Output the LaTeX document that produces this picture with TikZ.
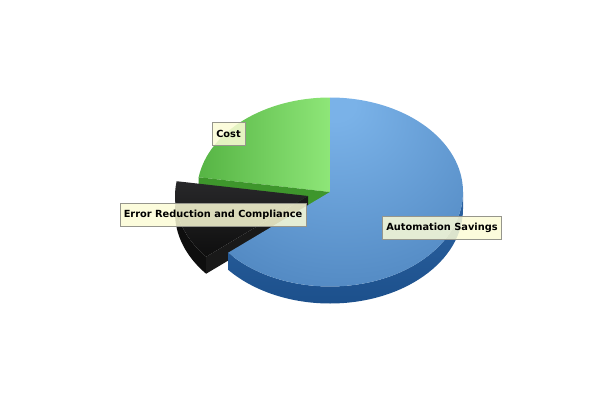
\documentclass[tikz,border=0pt]{standalone}
\usepackage{fontspec}
\setsansfont{DejaVu Sans}
\usetikzlibrary{calc}

\definecolor{bluelight}{RGB}{122,178,232}
\definecolor{bluedark}{RGB}{52,106,166}
\definecolor{blueside}{RGB}{46,100,162}
\definecolor{bluesidedark}{RGB}{28,80,140}
\definecolor{greenlight}{RGB}{142,230,120}
\definecolor{greendark}{RGB}{86,180,68}
\definecolor{greenwall}{RGB}{62,150,44}
\definecolor{blacktop}{RGB}{40,40,42}
\definecolor{blackdark}{RGB}{14,14,14}
\definecolor{tagfill}{RGB}{252,252,214}
\definecolor{tagline}{RGB}{150,150,140}

\pgfdeclareradialshading{bluetop}{\pgfpoint{-4bp}{25bp}}{%
  color(0bp)=(bluelight); color(4bp)=(bluelight); color(58bp)=(bluedark)}

\begin{document}
\begin{tikzpicture}[
    % GLOBAL CFG
    x=1pt, y=1pt,
    font=\sffamily\bfseries\fontsize{9.8}{11}\selectfont,
    % Styles
    tag/.style={% For the slice labels
        rectangle,
        draw=tagline,
        fill=tagfill,
        fill opacity=0.85,
        text opacity=1,
        inner xsep=4pt,
        minimum height=23pt,
        },
    ]
    \useasboundingbox (0,0) rectangle (600,400);

    % centre of the pie and of the pulled out slice
    \coordinate (C) at (330,208);
    \coordinate (B) at (308,204);

    % Cost (green)
    \path [left color=greendark, right color=greenlight]
      (C) -- +(0,94.5) arc[start angle=90, end angle=171, x radius=133, y radius=94.5] -- cycle;
    \fill [greenwall] (C) -- ($(C)+(171:133 and 94.5)$) -- ++(0,-17) -- ($(C)+(0,-17)$) -- cycle;

    % Error Reduction and Compliance (black, pulled out)
    \fill [blackdark] ($(B)+(180:133 and 94.5)$)
      arc[start angle=180, end angle=220, x radius=133, y radius=94.5] -- ++(0,-17)
      arc[start angle=220, end angle=180, x radius=133, y radius=94.5] -- cycle;
    \fill [black!90] (B) -- ($(B)+(220:133 and 94.5)$) -- ++(0,-17) -- ($(B)+(0,-17)$) -- cycle;
    \path [top color=blacktop, bottom color=blackdark]
      (B) -- +(171:133 and 94.5) arc[start angle=171, end angle=220, x radius=133, y radius=94.5] -- cycle;

    % Automation Savings (blue)
    \path [top color=blueside, bottom color=bluesidedark]
      ($(C)+(220:133 and 94.5)$)
      arc[start angle=220, end angle=360, x radius=133, y radius=94.5] -- ++(0,-17)
      arc[start angle=360, end angle=220, x radius=133, y radius=94.5] -- cycle;
    \path [shading=bluetop]
      (C) -- +(-140:133 and 94.5) arc[start angle=-140, end angle=90, x radius=133, y radius=94.5] -- cycle;

    % Labels
    \node [tag] (cost) at (228.5,266.5) {Cost};
    \node [tag] (error) at (213,185.5) {Error Reduction and Compliance};
    \node [tag] (savings) at (442,172.5) {Automation Savings};
\end{tikzpicture}
\end{document}
